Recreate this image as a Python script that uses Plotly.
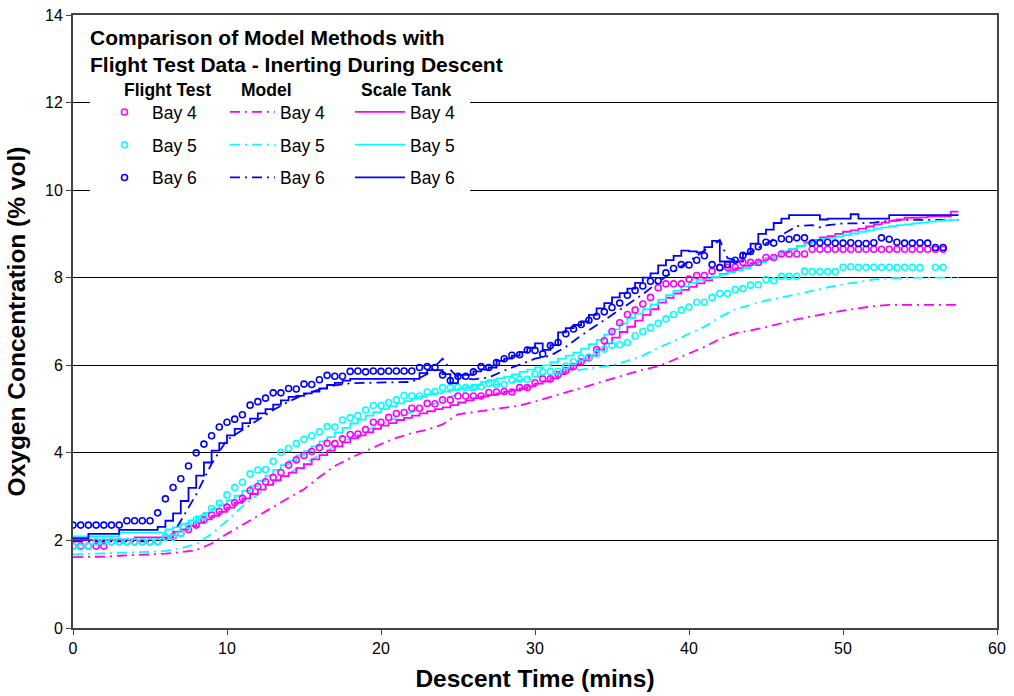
import plotly.graph_objects as go

# ---------------- data ----------------
# Flight-test samples every 0.5 min (t = 0 ... 56.5)
FT_TIME = [i * 0.5 for i in range(114)]
FT_BAY4 = [1.87, 1.87, 1.87, 1.87, 1.87, 1.97, 1.97, 1.97, 1.97, 1.97, 1.97, 1.97,
           2.07, 2.09, 2.16, 2.25, 2.35, 2.47, 2.58, 2.66, 2.76,
           2.86, 2.96, 3.14, 3.23, 3.34, 3.44, 3.55, 3.72, 3.84, 3.94,
           4.03, 4.12, 4.22, 4.21, 4.32, 4.42, 4.43, 4.53, 4.70, 4.70,
           4.81, 4.90, 4.92, 5.02, 5.02, 5.13, 5.12, 5.21, 5.21, 5.30,
           5.30, 5.30, 5.30, 5.38, 5.39, 5.40, 5.39, 5.49, 5.49, 5.60,
           5.69, 5.69, 5.79, 5.88, 5.97, 6.08, 6.17, 6.36, 6.56, 6.77,
           6.97, 7.16, 7.26, 7.40, 7.55, 7.77, 7.86, 7.86, 7.86, 7.97,
           8.05, 8.05, 8.15, 8.24, 8.24, 8.24, 8.35, 8.35, 8.35, 8.46,
           8.46, 8.54, 8.54, 8.54, 8.54, 8.65, 8.65, 8.65, 8.65, 8.65,
           8.65, 8.65, 8.65, 8.65, 8.65, 8.65, 8.65, 8.65, 8.65, 8.65,
           8.65, 8.65, 8.65]
FT_BAY5 = [1.87, 1.85, 1.87, 1.97, 1.97, 1.97, 1.97, 1.97, 1.97, 1.97, 1.97, 1.97, 2.07, 2.07,
           2.16, 2.34, 2.47, 2.54, 2.73, 2.85, 3.04,
           3.21, 3.33, 3.52, 3.61, 3.62, 3.81, 4.01, 4.10, 4.21, 4.31,
           4.39, 4.48, 4.60, 4.59, 4.75, 4.80, 4.85, 4.98, 5.08, 5.08,
           5.15, 5.21, 5.31, 5.30, 5.30, 5.39, 5.40, 5.49, 5.49, 5.49,
           5.49, 5.49, 5.51, 5.59, 5.56, 5.56, 5.66, 5.68, 5.68, 5.80,
           5.85, 5.86, 5.86, 5.98, 6.08, 6.17, 6.19, 6.27, 6.37, 6.46,
           6.47, 6.52, 6.67, 6.77, 6.86, 6.96, 7.06, 7.16, 7.26, 7.33,
           7.44, 7.44, 7.55, 7.64, 7.64, 7.73, 7.75, 7.83, 7.84, 7.96,
           7.93, 8.03, 8.03, 8.03, 8.15, 8.14, 8.14, 8.14, 8.14, 8.24,
           8.25, 8.24, 8.24, 8.24, 8.24, 8.24, 8.23, 8.24, 8.24, 8.23,
           None, 8.24, 8.24]
FT_BAY6 = [2.35, 2.35, 2.35, 2.35, 2.35, 2.35, 2.35,
           2.45, 2.45, 2.45, 2.45,
           2.63, 2.95, 3.21, 3.41, 3.70, 4.00, 4.20, 4.39, 4.59, 4.70,
           4.77, 4.87, 5.09, 5.17, 5.25, 5.37, 5.37, 5.47, 5.46, 5.57,
           5.56, 5.67, 5.77, 5.75, 5.75, 5.86, 5.87, 5.85, 5.87, 5.86,
           5.87, 5.87, 5.87, 5.87, 5.95, 5.97, 5.95, 5.78, 5.65, 5.75,
           5.75, 5.85, 5.97, 5.95, 6.06, 6.15, 6.23, 6.24, 6.35, 6.34,
           6.26, 6.45, 6.52, 6.72, 6.83, 6.93, 7.03, 7.12, 7.22, 7.32,
           7.42, 7.60, 7.71, 7.81, 7.92, 7.93, 8.11, 8.21, 8.30, 8.29,
           8.40, 8.50, 8.30, 8.23, 8.30, 8.40, 8.51, 8.60, 8.71, 8.81,
           8.79, 8.89, 8.88, 8.91, 8.91, 8.79, 8.80, 8.81, 8.79, 8.79,
           8.80, 8.78, 8.78, 8.80, 8.91, 8.88, 8.81, 8.79, 8.79, 8.80,
           8.79, 8.69, 8.69]

# Model predictions
MODEL_TIME = list(range(58)) + [57.5]
MODEL_BAY4 = [1.62, 1.62, 1.63, 1.65, 1.66, 1.68, 1.70, 1.73, 1.78, 1.93,
              2.15, 2.36, 2.56, 2.76, 2.97, 3.17, 3.45, 3.70, 3.88, 4.04,
              4.20, 4.34, 4.45, 4.53, 4.65, 4.88, 4.93, 4.97, 5.02, 5.08,
              5.17, 5.28, 5.38, 5.48, 5.59, 5.70, 5.80, 5.90, 5.98, 6.12,
              6.27, 6.42, 6.60, 6.73, 6.80, 6.87, 6.96, 7.05, 7.12, 7.19,
              7.25, 7.30, 7.35, 7.38, 7.38, 7.38, 7.38, 7.38, 7.38]
MODEL_BAY5 = [1.68, 1.69, 1.70, 1.71, 1.72, 1.74, 1.76, 1.82, 1.92, 2.15,
              2.45, 2.78, 3.05, 3.30, 3.52, 3.75, 3.95, 4.15, 4.33, 4.50,
              4.65, 4.80, 4.93, 5.05, 5.20, 5.35, 5.45, 5.52, 5.60, 5.67,
              5.73, 5.78, 5.85, 5.90, 5.95, 6.00, 6.10, 6.22, 6.40, 6.55,
              6.72, 6.88, 7.10, 7.28, 7.38, 7.48, 7.55, 7.62, 7.70, 7.78,
              7.85, 7.90, 7.96, 7.99, 8.00, 8.00, 8.00, 8.00, 8.00]
MODEL_BAY6_TIME = [0, 1, 2, 3, 4, 5, 6, 6.5, 7, 8, 9, 10, 11, 12, 13, 14, 15, 16, 17, 18,
                   19, 20, 21, 22, 23, 24, 24.5, 25, 26, 27, 28, 29, 30, 31, 32, 33, 34,
                   35, 36, 37, 38, 39, 40, 41, 41.5, 42, 42.5, 43, 44, 45, 46, 47, 48,
                   48.5, 49, 50, 51, 52, 53, 54, 55, 56, 57, 57.5]
MODEL_BAY6 = [1.98, 1.98, 1.98, 1.98, 1.98, 1.98, 2.02, 2.15, 2.45, 3.05, 3.75, 4.30,
              4.52, 4.75, 4.98, 5.17, 5.33, 5.45, 5.54, 5.59, 5.60, 5.61, 5.61, 5.62,
              5.80, 6.15, 5.90, 5.72, 5.68, 5.72, 5.88, 6.02, 6.15, 6.22, 6.42, 6.68,
              6.92, 7.15, 7.38, 7.62, 7.90, 8.15, 8.38, 8.62, 8.72, 8.86, 8.45, 8.40,
              8.58, 8.78, 8.97, 9.18, 9.20, 9.15, 9.20, 9.24, 9.24, 9.26, 9.30, 9.32,
              9.32, 9.32, 9.32, 9.32]

# Scale-tank results every 0.5 min (t = 0 ... 57.5)
ST_TIME = [i * 0.5 for i in range(116)]
ST_BAY4 = [2.02, 2.02, 2.02, 2.02, 2.02, 2.02, 2.02, 2.02, 2.07, 2.07, 2.07,
           2.07, 2.07, 2.20, 2.25, 2.33, 2.40, 2.48, 2.56, 2.65, 2.75,
           2.86, 2.96, 3.06, 3.16, 3.27, 3.37, 3.47, 3.55, 3.65, 3.74,
           3.85, 3.95, 4.05, 4.15, 4.24, 4.33, 4.40, 4.47, 4.55, 4.62,
           4.68, 4.75, 4.80, 4.85, 4.90, 4.95, 5.00, 5.04, 5.09, 5.15,
           5.20, 5.25, 5.29, 5.32, 5.36, 5.40, 5.43, 5.47, 5.52, 5.58,
           5.63, 5.70, 5.80, 5.91, 6.02, 6.12, 6.22, 6.36, 6.50, 6.63,
           6.76, 6.88, 7.02, 7.15, 7.28, 7.43, 7.54, 7.64, 7.72, 7.79,
           7.87, 7.94, 8.01, 8.08, 8.15, 8.22, 8.27, 8.33, 8.38, 8.44,
           8.50, 8.58, 8.65, 8.72, 8.80, 8.86, 8.92, 8.95, 9.00, 9.05,
           9.08, 9.12, 9.17, 9.22, 9.26, 9.30, 9.33, 9.37, 9.37, 9.38,
           9.40, 9.40, 9.40, 9.51, 9.51]
ST_BAY5 = [2.09, 2.09, 2.09, 2.09, 2.09, 2.09, 2.18, 2.18, 2.18, 2.18, 2.18,
           2.18, 2.25, 2.30, 2.38, 2.46, 2.55, 2.63, 2.72, 2.81, 2.92,
           3.02, 3.13, 3.24, 3.36, 3.48, 3.61, 3.72, 3.82, 3.94, 4.04,
           4.15, 4.26, 4.36, 4.46, 4.57, 4.67, 4.76, 4.85, 4.93, 5.00,
           5.06, 5.13, 5.18, 5.24, 5.29, 5.33, 5.36, 5.40, 5.44, 5.47,
           5.50, 5.55, 5.62, 5.66, 5.70, 5.74, 5.79, 5.85, 5.90, 5.95,
           6.00, 6.07, 6.15, 6.22, 6.29, 6.38, 6.48, 6.58, 6.70, 6.82,
           6.95, 7.08, 7.18, 7.28, 7.39, 7.50, 7.60, 7.70, 7.80, 7.88,
           7.95, 7.98, 8.02, 8.07, 8.12, 8.17, 8.22, 8.29, 8.35, 8.42,
           8.50, 8.60, 8.66, 8.72, 8.78, 8.84, 8.88, 8.91, 8.94, 8.97,
           9.01, 9.05, 9.08, 9.12, 9.15, 9.18, 9.20, 9.22, 9.24, 9.26,
           9.28, 9.30, 9.31, 9.32, 9.32]
ST_BAY6 = [2.05, 2.05, 2.15, 2.15, 2.15, 2.15, 2.24, 2.24, 2.24, 2.24, 2.24,
           2.31, 2.45, 2.62, 2.90, 3.20, 3.48, 3.78, 4.05, 4.22, 4.40,
           4.55, 4.68, 4.78, 4.90, 5.00, 5.10, 5.20, 5.28, 5.30, 5.36,
           5.40, 5.47, 5.55, 5.60, 5.65, 5.69, 5.69, 5.69, 5.69, 5.69,
           5.69, 5.69, 5.69, 5.69, 5.82, 5.89, 5.89, 5.80, 5.59, 5.78,
           5.78, 5.86, 5.90, 5.95, 6.10, 6.15, 6.22, 6.30, 6.40, 6.50,
           6.35, 6.46, 6.75, 6.85, 6.92, 7.00, 7.15, 7.30, 7.42, 7.55,
           7.65, 7.75, 7.88, 8.00, 8.10, 8.28, 8.40, 8.50, 8.62, 8.60,
           8.58, 8.70, 8.84, 8.37, 8.37, 8.37, 8.55, 8.78, 9.00, 9.10,
           9.25, 9.35, 9.43, 9.43, 9.43, 9.43, 9.33, 9.35, 9.35, 9.35,
           9.45, 9.35, 9.35, 9.35, 9.35, 9.43, 9.43, 9.43, 9.43, 9.43,
           9.43, 9.43, 9.43, 9.43, 9.43]

BAY_NAMES = ["Bay 4", "Bay 5", "Bay 6"]
GROUP_TITLES = ["Flight Test", "Model", "Scale Tank"]
COLORS = ["#FF00FF", "#00FFFF", "#0000FF"]

X_TICKS = [0, 10, 20, 30, 40, 50, 60]
Y_TICKS = [0, 2, 4, 6, 8, 10, 12, 14]

FONT = "Liberation Sans, Arial, sans-serif"

# ---------------- figure ----------------
fig = go.Figure()

ft_series = [FT_BAY4, FT_BAY5, FT_BAY6]
model_series = [(MODEL_TIME, MODEL_BAY4), (MODEL_TIME, MODEL_BAY5), (MODEL_BAY6_TIME, MODEL_BAY6)]
st_series = [ST_BAY4, ST_BAY5, ST_BAY6]

for i in range(3):
    fig.add_trace(go.Scatter(
        x=model_series[i][0], y=model_series[i][1], mode="lines", name=BAY_NAMES[i],
        line=dict(color=COLORS[i], width=1.8, dash="10px,5px,2px,5px"),
        legend="legend2", legendgroup="m%d" % i))
for i in range(3):
    fig.add_trace(go.Scatter(
        x=ST_TIME, y=st_series[i], mode="lines", name=BAY_NAMES[i],
        line=dict(color=COLORS[i], width=1.8, shape="hv"),
        legend="legend3", legendgroup="s%d" % i))
for i in range(3):
    fig.add_trace(go.Scatter(
        x=FT_TIME, y=ft_series[i], mode="markers", name=BAY_NAMES[i],
        marker=dict(symbol="circle-open", size=6, color=COLORS[i], line=dict(width=1.6, color=COLORS[i])),
        legend="legend", legendgroup="f%d" % i))

leg_common = dict(
    xanchor="left", yanchor="top", bgcolor="rgba(0,0,0,0)", borderwidth=0,
    font=dict(family=FONT, size=17.5, color="black"),
    tracegroupgap=7, traceorder="grouped", y=0.871,
)
fig.update_layout(
    legend=dict(x=0.026, itemwidth=45, **leg_common),
    legend2=dict(x=0.1645, itemwidth=45, **leg_common),
    legend3=dict(x=0.2998, itemwidth=50, **leg_common),
)

annotations = [dict(text="<b>Comparison of Model Methods with<br>Flight Test Data - Inerting During Descent</b>",
                    xref="paper", yref="paper", x=0.016, y=0.986, xanchor="left", yanchor="top",
                    align="left", showarrow=False,
                    font=dict(family=FONT, size=21, color="black"))]
for title, xc in zip(GROUP_TITLES, [0.1028, 0.2089, 0.3604]):
    annotations.append(dict(text="<b>%s</b>" % title, xref="paper", yref="paper", x=xc, y=0.8775,
                            xanchor="center", yanchor="middle", showarrow=False,
                            font=dict(family=FONT, size=17.5, color="black")))

fig.update_layout(
    width=1014, height=696,
    margin=dict(l=73, r=17, t=15, b=68),
    paper_bgcolor="white", plot_bgcolor="white",
    template="none",
    font=dict(family=FONT, size=16, color="black"),
    showlegend=True,
    xaxis=dict(range=[0, 60], tickvals=X_TICKS, ticks="outside", ticklen=5, tickcolor="#444",
               showgrid=False, zeroline=False, showline=True, linecolor="#444", linewidth=2,
               mirror=True, automargin=False, tickfont=dict(family=FONT, size=16, color="black"),
               title=dict(text="<b>Descent Time (mins)</b>", font=dict(family=FONT, size=24.5, color="black"),
                          standoff=14)),
    yaxis=dict(range=[0, 14], tickvals=Y_TICKS, ticks="outside", ticklen=5, tickcolor="#444",
               showgrid=True, gridcolor="black", gridwidth=1, zeroline=False,
               showline=True, linecolor="#444", linewidth=2, mirror=True, automargin=False,
               tickfont=dict(family=FONT, size=16, color="black"),
               title=dict(text="<b>Oxygen Concentration (% vol)</b>",
                          font=dict(family=FONT, size=24.5, color="black"), standoff=12)),
    shapes=[dict(type="rect", xref="paper", yref="paper", x0=0.0184, x1=0.4297, y0=0.706, y1=0.99,
                 fillcolor="white", line=dict(width=0), layer="above")],
    annotations=annotations,
)

fig.write_html("out.html", config={"displayModeBar": False},
               post_script="document.body.style.margin='0';document.body.style.overflow='hidden';")
